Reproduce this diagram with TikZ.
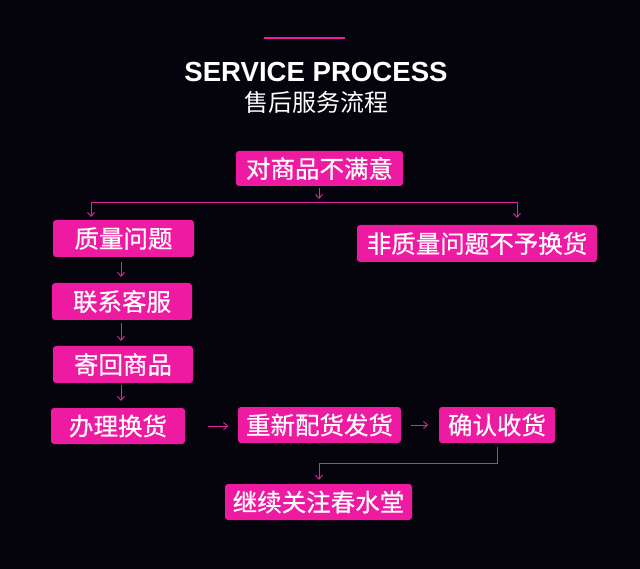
\documentclass[tikz,border=0pt]{standalone}
\usepackage{fontspec}
\setmainfont{Liberation Sans}
\newfontfamily\cjk[FakeBold=0.6]{Noto Sans CJK SC}
\newfontfamily\cjkplain{Noto Sans CJK SC}
\usetikzlibrary{arrows.meta,calc}
\definecolor{bgc}{RGB}{5,4,12}
\definecolor{pinkbox}{RGB}{238,26,162}
\definecolor{pinkline}{RGB}{232,34,165}
\tikzset{
  stepbox/.style={fill=pinkbox, rounded corners=3pt, inner sep=0pt, text=white,
    font=\cjk\fontsize{24.5}{24.5}\selectfont, anchor=center},
  arr/.style={draw=pinkline, line width=0.9pt, -{Straight Barb[length=4pt,width=7pt,line width=0.9pt]}},
  ln/.style={draw=pinkline, line width=0.9pt}
}
\begin{document}
\begin{tikzpicture}[x=1pt,y=-1pt]
\useasboundingbox (0,0) rectangle (640,569);
\fill[bgc] (0,0) rectangle (640,569);
% header
\draw[pinkbox, line width=2pt] (264,38) coordinate (tl1) -- (345,38) coordinate (tl2);
\node[text=white, font=\bfseries\fontsize{27.6}{28}\selectfont] (title) at (316,72) {SERVICE PROCESS};
\node[text=white, font=\cjkplain\fontsize{24}{24}\selectfont] (subtitle) at (316,102) {售后服务流程};
% boxes
\node[stepbox, minimum width=167pt, minimum height=35pt] (n1) at (319.5,168.5) {对商品不满意};
\node[stepbox, minimum width=141pt, minimum height=37pt] (n2) at (123.5,238.5) {质量问题};
\node[stepbox, minimum width=240pt, minimum height=37pt] (n3) at (477,243.5) {非质量问题不予换货};
\node[stepbox, minimum width=140pt, minimum height=37pt] (n4) at (122,301.5) {联系客服};
\node[stepbox, minimum width=140pt, minimum height=37pt] (n5) at (123,364.5) {寄回商品};
\node[stepbox, minimum width=134pt, minimum height=36pt] (n6) at (118,426) {办理换货};
\node[stepbox, minimum width=163pt, minimum height=36pt] (n7) at (319.5,425) {重新配货发货};
\node[stepbox, minimum width=116pt, minimum height=36pt] (n8) at (497,425) {确认收货};
\node[stepbox, minimum width=187pt, minimum height=36pt] (n9) at (318.5,502) {继续关注春水堂};
% connectors
\coordinate (sl) at (91,202);
\coordinate (sr) at (517,202);
\draw[arr] (319,188) -- (319,199);
\draw[ln] (sl) -- (sr);
\draw[arr] (sl) -- (91,217);
\draw[arr] (sr) -- (517,218);
\draw[arr] (121,262) -- (121,277);
\draw[arr] (121,323) -- (121,341);
\draw[arr] (121,385) -- (121,401);
\draw[arr] ($(n6.east)+(23,0)$) -- ($(n6.east)+(43,0)$);
\draw[arr] ($(n7.east)+(10,0)$) -- ($(n7.east)+(27,0)$);
\coordinate (c1) at (497,463);
\coordinate (c2) at (319,463);
\draw[ln] ($(n8.south)+(0,4)$) -- (c1) -- (c2);
\draw[arr] (c2) -- ($(n9.north)+(0.5,-4)$);
\end{tikzpicture}
\end{document}
